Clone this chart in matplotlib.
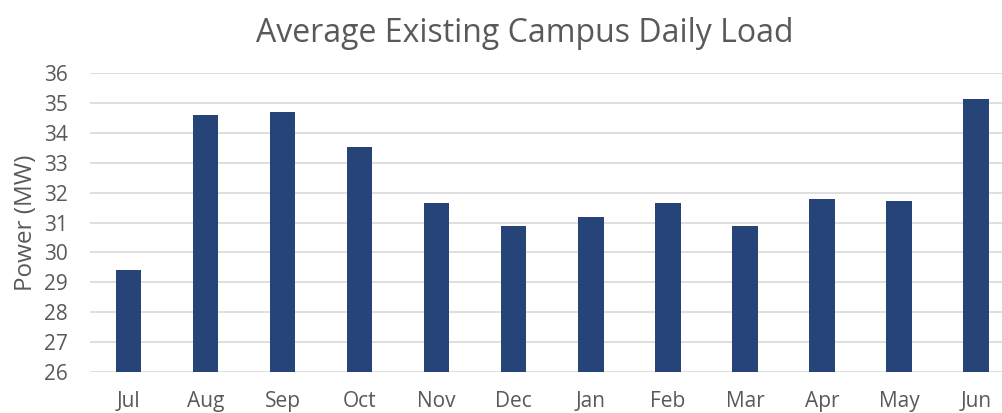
import matplotlib.pyplot as plt

months = ['Jul', 'Aug', 'Sep', 'Oct', 'Nov', 'Dec', 'Jan', 'Feb', 'Mar', 'Apr', 'May', 'Jun']
load_mw = [29.4, 34.6, 34.69, 33.53, 31.67, 30.87, 31.2, 31.67, 30.87, 31.8, 31.73, 35.13]
yticks = list(range(26, 37))

plt.rcParams['font.family'] = ['Open Sans', 'DejaVu Sans']
text_color = '#595959'

fig = plt.figure(figsize=(10.03, 4.13), dpi=100)
ax = fig.add_axes([0.0897, 0.1, 0.9103, 0.7225])

x = range(len(months))
ax.bar(x, load_mw, width=0.33, color='#264478', zorder=3)

ax.set_ylim(26, 36)
ax.set_xlim(-0.5, 11.35)
ax.set_yticks(yticks)
ax.set_xticks(list(x))
ax.set_xticklabels(months)
ax.grid(axis='y', color='#d9d9d9', linewidth=1.2, zorder=0)
for s in ax.spines.values():
    s.set_visible(False)
ax.tick_params(axis='both', length=0, labelsize=15, colors=text_color)
ax.tick_params(axis='x', pad=14)
ax.tick_params(axis='y', pad=16)

ax.set_ylabel('Power (MW)', fontsize=17.5, color=text_color, labelpad=4)
fig.suptitle('Average Existing Campus Daily Load', fontsize=23, color=text_color,
             x=0.523, y=0.96)

fig.savefig('out.png', dpi=100)
